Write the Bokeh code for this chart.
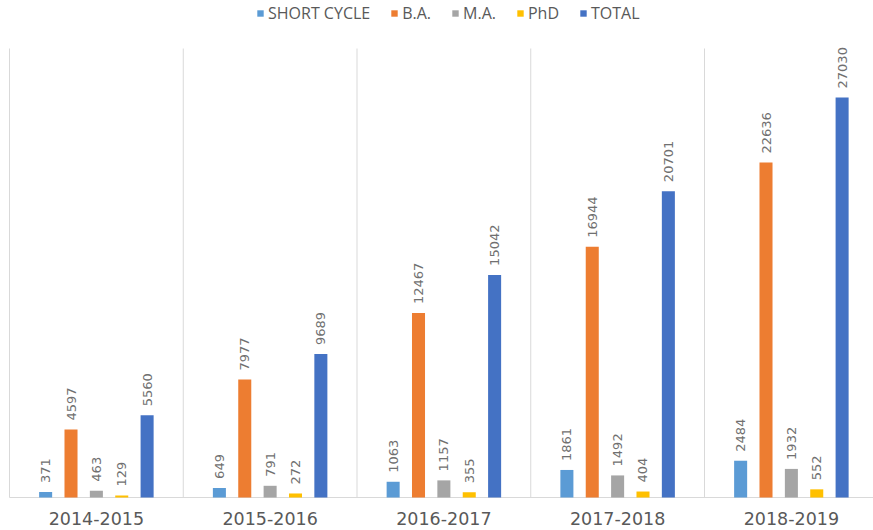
from bokeh.plotting import figure
from bokeh.models import ColumnDataSource, Range1d, Legend, LegendItem
from bokeh.core.properties import value
from bokeh.embed import file_html
from bokeh.resources import INLINE
import numpy as np

categories = ["2014-2015", "2015-2016", "2016-2017", "2017-2018", "2018-2019"]
series_names = ["SHORT CYCLE", "B.A.", "M.A.", "PhD", "TOTAL"]
short_cycle = [371, 649, 1063, 1861, 2484]
ba = [4597, 7977, 12467, 16944, 22636]
ma = [463, 791, 1157, 1492, 1932]
phd = [129, 272, 355, 404, 552]
total = [5560, 9689, 15042, 20701, 27030]
colors = ["#5B9BD5", "#ED7D31", "#A5A5A5", "#FFC000", "#4472C4"]

all_series = [short_cycle, ba, ma, phd, total]

W, H = 873, 530
p = figure(width=W, height=H, output_backend="svg", toolbar_location=None,
           min_border=0, min_border_left=0, min_border_right=0,
           min_border_top=0, min_border_bottom=0)
p.outline_line_color = None
p.background_fill_color = "white"
p.border_fill_color = "white"
p.xgrid.visible = False
p.ygrid.visible = False
p.axis.visible = False

# layout: category i spans [i, i+1]; frame fills the whole figure
px_per_x = 173.75
left_px = 9
p.x_range = Range1d(-left_px / px_per_x, (W - left_px) / px_per_x)
px_per_y = 0.0148
base_px = 497
top_px = 48
p.y_range = Range1d(-(H - base_px) / px_per_y, base_px / px_per_y)
sep_top = (base_px - top_px) / px_per_y

n = len(categories)
idx = np.arange(n)

# separators and baseline
p.segment(x0=np.arange(n + 1), y0=[0] * (n + 1), x1=np.arange(n + 1), y1=[sep_top] * (n + 1),
          line_color="#d9d9d9", line_width=1)
p.segment(x0=[0], y0=[0], x1=[n], y1=[0], line_color="#d9d9d9", line_width=1)

step = 0.146
bw = 0.075
items = []
for k, (name, vals, col) in enumerate(zip(series_names, all_series, colors)):
    xs = idx + 0.5 + (k - 2) * step
    src = ColumnDataSource(dict(x=xs, top=vals, lbl=[str(v) for v in vals]))
    r = p.vbar(x="x", top="top", width=bw, bottom=0, source=src,
               fill_color=col, line_color=None)
    p.text(x="x", y="top", text="lbl", source=src, angle=np.pi / 2,
           text_align="left", text_baseline="middle", y_offset=-9,
           text_font=value("DejaVu Sans"), text_font_size="13px",
           text_color="#707070")
    items.append(LegendItem(label=name, renderers=[r]))

# category labels
csrc = ColumnDataSource(dict(x=idx + 0.5, y=[0] * n, t=categories))
p.text(x="x", y="y", text="t", source=csrc, text_align="center",
       text_baseline="middle", y_offset=21,
       text_font=value("DejaVu Sans"), text_font_size="17.5px",
       text_color="#595959")

legend = Legend(items=items, orientation="horizontal", location=(256, H - 24),
                glyph_width=8, glyph_height=8, label_height=12, label_standoff=4,
                spacing=20, padding=0, margin=0,
                label_text_font="Open Sans", label_text_font_size="16px",
                label_text_color="#595959",
                background_fill_alpha=0, border_line_color=None)
p.add_layout(legend, "center")

open("out.html", "w").write(file_html(p, INLINE))
